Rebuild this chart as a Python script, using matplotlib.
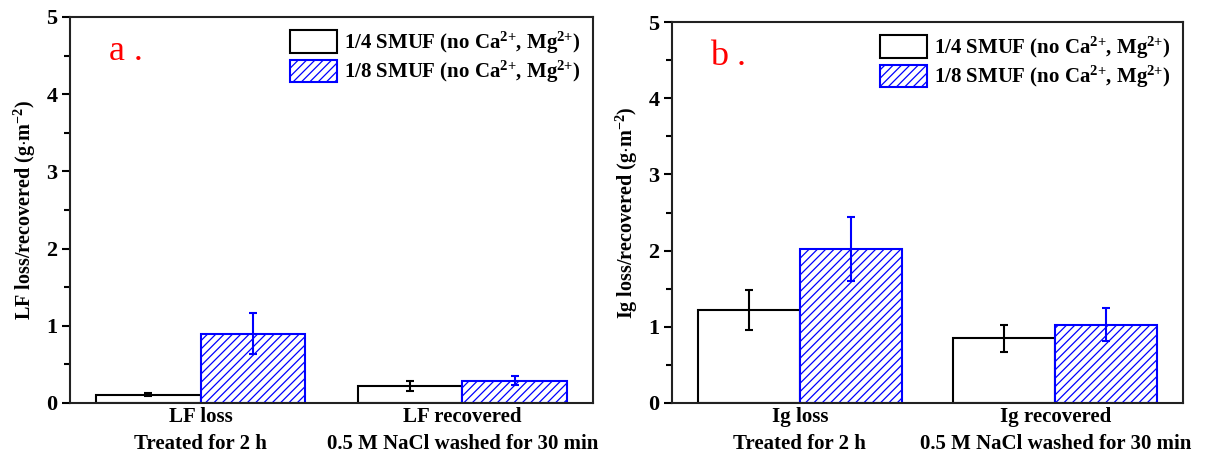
import matplotlib
matplotlib.use("Agg")
import matplotlib.pyplot as plt
import numpy as np

# ---- data ----
groups_a = ["LF loss\nTreated for 2 h", "LF recovered\n0.5 M NaCl washed for 30 min"]
groups_b = ["Ig loss\nTreated for 2 h", "Ig recovered\n0.5 M NaCl washed for 30 min"]
series_names = ["1/4 SMUF (no Ca$^{2{+}}$, Mg$^{2{+}}$)", "1/8 SMUF (no Ca$^{2{+}}$, Mg$^{2{+}}$)"]

lf_quarter = [0.11, 0.22]
lf_quarter_err = [0.02, 0.07]
lf_eighth = [0.90, 0.29]
lf_eighth_err = [0.27, 0.06]

ig_quarter = [1.22, 0.85]
ig_quarter_err = [0.26, 0.18]
ig_eighth = [2.02, 1.03]
ig_eighth_err = [0.42, 0.22]

ylabel_a = "LF loss/recovered (g$\\cdot$m$^{-2}$)"
ylabel_b = "Ig loss/recovered (g$\\cdot$m$^{-2}$)"

plt.rcParams['font.family'] = ['Liberation Serif', 'DejaVu Serif']
plt.rcParams['font.weight'] = 'bold'
plt.rcParams['mathtext.fontset'] = 'custom'
plt.rcParams['mathtext.rm'] = 'Liberation Serif:bold'
plt.rcParams['mathtext.it'] = 'Liberation Serif:bold'
plt.rcParams['mathtext.bf'] = 'Liberation Serif:bold'
plt.rcParams['hatch.linewidth'] = 0.9

fig = plt.figure(figsize=(12.10, 4.57), dpi=100)
W, H = 1210, 457
ax_a = fig.add_axes([70 / W, 1 - 403 / H, (593 - 70) / W, (403 - 17) / H])
ax_b = fig.add_axes([672 / W, 1 - 403 / H, (1183 - 672) / W, (403 - 22) / H])


def draw(ax, groups, q, qe, e, ee, ylabel, letter):
    x = np.arange(1, len(groups) + 1)
    w = 0.4
    ax.bar(x - w / 2, q, w, facecolor='white', edgecolor='black', linewidth=1.5,
           label=series_names[0], zorder=2)
    ax.bar(x + w / 2, e, w, facecolor='white', edgecolor='blue', linewidth=1.5,
           hatch='////', label=series_names[1], zorder=2)
    ax.errorbar(x - w / 2, q, yerr=qe, fmt='none', ecolor='black', elinewidth=1.5,
                capsize=3, capthick=1.5, zorder=3)
    ax.errorbar(x + w / 2, e, yerr=ee, fmt='none', ecolor='blue', elinewidth=1.5,
                capsize=3, capthick=1.5, zorder=3)
    ax.set_xlim(0.5, 2.5)
    ax.set_ylim(0, 5)
    ax.set_yticks([0, 1, 2, 3, 4, 5])
    ax.set_yticks(np.arange(0.5, 5, 1.0), minor=True)
    ax.set_xticks(x)
    ax.set_xticklabels(groups, fontsize=15, fontweight='bold', linespacing=1.45)
    ax.tick_params(axis='x', length=0, pad=3)
    ax.tick_params(axis='y', which='major', length=6, width=1.5, direction='out', labelsize=16, pad=3)
    ax.tick_params(axis='y', which='minor', length=4, width=1.5, direction='out')
    for lab in ax.get_yticklabels():
        lab.set_fontweight('bold')
    for s in ax.spines.values():
        s.set_linewidth(1.5)
        s.set_color('#222222')
    ax.set_ylabel(ylabel, fontsize=14.5, fontweight='bold', labelpad=6)
    ax.legend(loc='upper right', frameon=False, handlelength=2.3,
              handleheight=1.25, labelspacing=0.15, handletextpad=0.3,
              borderaxespad=0.3, borderpad=0.3, prop={'weight': 'bold', 'size': 15})
    ax.text(0.075, 0.91, letter, transform=ax.transAxes, color='red', fontsize=26,
            fontweight='normal', ha='left', va='center')


draw(ax_a, groups_a, lf_quarter, lf_quarter_err, lf_eighth, lf_eighth_err, ylabel_a, "a .")
draw(ax_b, groups_b, ig_quarter, ig_quarter_err, ig_eighth, ig_eighth_err, ylabel_b, "b .")

fig.savefig("out.png", dpi=100)
